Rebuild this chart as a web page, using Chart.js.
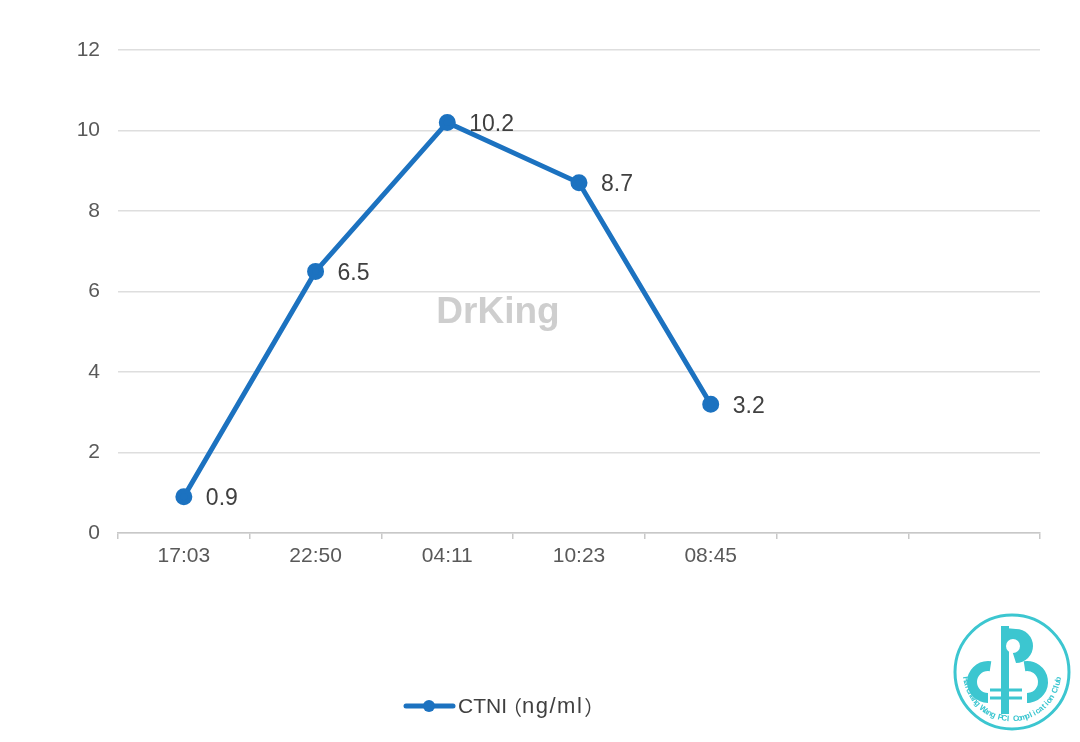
<!DOCTYPE html>
<html>
<head>
<meta charset="utf-8">
<script src="https://cdn.jsdelivr.net/npm/chart.js@4.4.1/dist/chart.umd.min.js"></script>
<style>
html,body{margin:0;padding:0;background:#fff;}
#wrap{width:1080px;height:742px;position:relative;}
</style>
</head>
<body>
<div id="wrap"><canvas id="c" width="1080" height="742"></canvas></div>
<script>
const categories = ['17:03', '22:50', '04:11', '10:23', '08:45', '', ''];
const ctniValues = [0.9, 6.5, 10.2, 8.7, 3.2, null, null];
const seriesName = 'CTNI（ng/ml）';
const yTicks = [0, 2, 4, 6, 8, 10, 12];

const FONT = '"Liberation Sans", Arial, "Noto Sans CJK SC", sans-serif';
const CJK = '"Noto Sans CJK SC", "Liberation Sans", sans-serif';
const LINE = '#1c72c0';

const extras = {
  id: 'extras',
  afterDatasetsDraw(chart) {
    const ctx = chart.ctx;
    const meta = chart.getDatasetMeta(0);
    ctx.save();
    // data labels
    ctx.font = '23px ' + FONT;
    ctx.fillStyle = '#404040';
    ctx.textAlign = 'left';
    ctx.textBaseline = 'middle';
    meta.data.forEach((pt, i) => {
      const v = ctniValues[i];
      if (v === null || v === undefined) return;
      ctx.fillText(String(v), pt.x + 22, pt.y + 2);
    });
    // watermark
    ctx.font = 'bold 37px ' + FONT;
    ctx.fillStyle = 'rgba(190,190,190,0.75)';
    ctx.textAlign = 'center';
    ctx.fillText('DrKing', 498, 313);
    // legend
    ctx.strokeStyle = LINE;
    ctx.lineWidth = 5;
    ctx.lineCap = 'round';
    ctx.beginPath();
    ctx.moveTo(406, 706);
    ctx.lineTo(453, 706);
    ctx.stroke();
    ctx.fillStyle = LINE;
    ctx.beginPath();
    ctx.arc(429, 706, 6, 0, Math.PI * 2);
    ctx.fill();
    ctx.fillStyle = '#404040';
    ctx.textAlign = 'left';
    const parts = seriesName.match(/^([^（]*)（([^）]*)）$/);
    let x = 458;
    ctx.font = '21px ' + FONT;
    ctx.fillText(parts[1], x, 707);
    x += ctx.measureText(parts[1]).width;
    ctx.font = '20px ' + CJK;
    ctx.fillText('（', x - 5, 707);
    x += ctx.measureText('（').width - 5;
    ctx.font = '22px ' + FONT;
    ctx.letterSpacing = '1.5px';
    ctx.fillText(parts[2], x, 707);
    x += ctx.measureText(parts[2]).width;
    ctx.letterSpacing = '0px';
    ctx.font = '20px ' + CJK;
    ctx.fillText('）', x + 1, 707);
    // logo
    const cx = 1012, cy = 672, r = 57;
    const teal = '#3cc6d0';
    ctx.strokeStyle = teal;
    ctx.lineWidth = 3;
    ctx.beginPath();
    ctx.arc(cx, cy, r, 0, Math.PI * 2);
    ctx.stroke();
    ctx.fillStyle = teal;
    ctx.lineWidth = 8;
    ctx.lineCap = 'butt';
    ctx.beginPath();
    ctx.moveTo(1005, 626);
    ctx.lineTo(1005, 714);
    ctx.stroke();
    ctx.beginPath();
    ctx.moveTo(1005, 628);
    ctx.arc(1016, 646, 17, -Math.PI / 2, Math.PI / 2);
    ctx.closePath();
    ctx.fill();
    ctx.fillStyle = '#fff';
    ctx.beginPath();
    ctx.arc(1013, 646, 7, 0, Math.PI * 2);
    ctx.fill();
    ctx.fillStyle = teal;
    ctx.lineWidth = 10;
    ctx.beginPath();
    ctx.arc(988, 682, 16, Math.PI * 0.5, Math.PI * 1.55);
    ctx.stroke();
    ctx.beginPath();
    ctx.arc(1027, 682, 16, -Math.PI * 0.55, Math.PI * 0.5);
    ctx.stroke();
    ctx.lineWidth = 3;
    ctx.beginPath();
    ctx.moveTo(990, 690); ctx.lineTo(1022, 690);
    ctx.moveTo(990, 698); ctx.lineTo(1022, 698);
    ctx.stroke();
    ctx.font = 'bold 8px ' + FONT;
    const txt = 'Haichang Wang PCI Complication Club';
    const start = Math.PI * 0.95, end = Math.PI * 0.05;
    const n = txt.length;
    for (let i = 0; i < n; i++) {
      const a = start - (start - end) * (i / (n - 1));
      const tx = cx + Math.cos(a) * (r - 10);
      const ty = cy + Math.sin(a) * (r - 10);
      ctx.save();
      ctx.translate(tx, ty);
      ctx.rotate(a - Math.PI / 2);
      ctx.textAlign = 'center';
      ctx.textBaseline = 'middle';
      ctx.fillText(txt[i], 0, 0);
      ctx.restore();
    }
    ctx.restore();
  }
};

new Chart(document.getElementById('c'), {
  type: 'line',
  data: {
    labels: categories,
    datasets: [{
      label: seriesName,
      data: ctniValues,
      borderColor: LINE,
      backgroundColor: LINE,
      borderWidth: 5,
      pointRadius: 6,
      pointHoverRadius: 6,
      pointBackgroundColor: LINE,
      pointBorderColor: LINE,
      tension: 0,
      spanGaps: false
    }]
  },
  options: {
    responsive: false,
    animation: false,
    devicePixelRatio: 1,
    layout: { padding: { top: 50, right: 40, left: 0, bottom: 0 } },
    plugins: { legend: { display: false }, tooltip: { enabled: false } },
    scales: {
      x: {
        type: 'category',
        offset: true,
        afterFit(s) { s.height = 742 - 533; },
        grid: { display: true, offset: true, drawOnChartArea: false, tickLength: 6, color: '#c8c8c8', lineWidth: 1.5 },
        border: { display: true, color: '#c8c8c8', width: 1.5 },
        ticks: { color: '#595959', font: { family: FONT, size: 21 }, padding: 5, maxRotation: 0, autoSkip: false }
      },
      y: {
        min: 0, max: 12,
        afterFit(s) { s.width = 118; },
        afterBuildTicks(s) { s.ticks = yTicks.map(v => ({ value: v })); },
        grid: { color: '#dedede', lineWidth: 1.5, drawTicks: false },
        border: { display: false },
        ticks: { color: '#595959', font: { family: FONT, size: 21 }, padding: 18 }
      }
    }
  },
  plugins: [extras]
});
</script>
</body>
</html>
